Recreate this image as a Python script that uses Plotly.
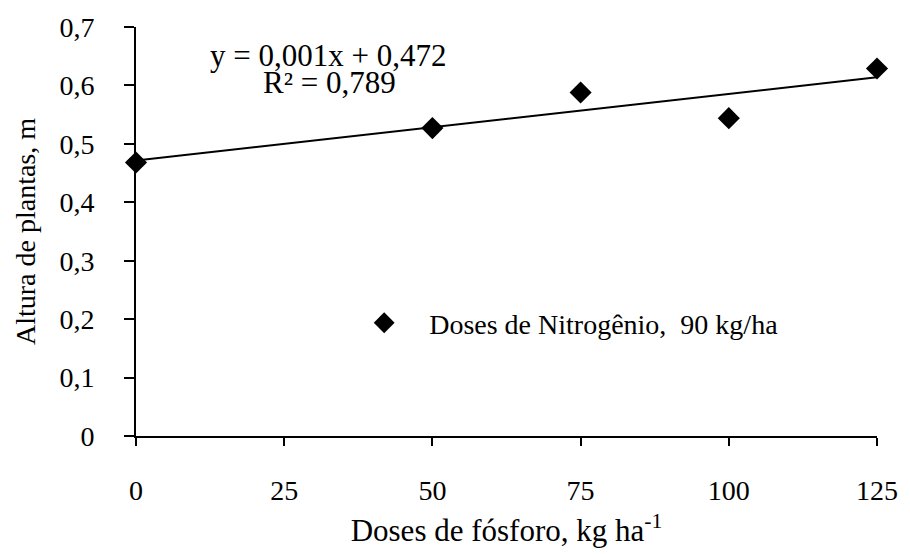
import numpy as np
import plotly.graph_objects as go

# Data
doses_p = [0, 50, 75, 100, 125]
altura = [0.468, 0.527, 0.588, 0.544, 0.629]
x_ticks = [0, 25, 50, 75, 100, 125]
y_ticks = [0, 0.1, 0.2, 0.3, 0.4, 0.5, 0.6, 0.7]
y_tick_labels = ["0", "0,1", "0,2", "0,3", "0,4", "0,5", "0,6", "0,7"]
series_name = "Doses de Nitrogênio,  90 kg/ha"
eq_line1 = "y = 0,001x + 0,472"
eq_line2 = "R² = 0,789"

FONT = "'Times New Roman', 'Liberation Serif', Tinos, 'Nimbus Roman', 'DejaVu Serif', serif"

# linear trendline fitted from data
slope, intercept = np.polyfit(doses_p, altura, 1)
trend_x = [min(doses_p), max(doses_p)]
trend_y = [slope * v + intercept for v in trend_x]

fig = go.Figure()
fig.add_trace(go.Scatter(
    x=trend_x, y=trend_y, mode="lines",
    line=dict(color="black", width=2),
    showlegend=False, hoverinfo="skip", cliponaxis=False,
))
fig.add_trace(go.Scatter(
    x=doses_p, y=altura, mode="markers", name=series_name,
    marker=dict(symbol="diamond", size=17, color="black"),
    cliponaxis=False,
))

axis_common = dict(
    showgrid=False, zeroline=False, showline=True, linecolor="black", linewidth=2,
    ticks="outside", tickcolor="black", tickwidth=2,
    tickfont=dict(family=FONT, size=28, color="black"),
)

plot_l, plot_r, plot_t, plot_b = 136, 880, 22, 442

def px_to_paper(px, py):
    return (px - plot_l) / (plot_r - plot_l), (plot_b - py) / (plot_b - plot_t)

a1 = px_to_paper(329, 51)
a2 = px_to_paper(330, 79)
lg = px_to_paper(340, 326)

fig.update_layout(
    width=910, height=554,
    margin=dict(l=plot_l, r=910 - plot_r, t=plot_t, b=554 - plot_b),
    paper_bgcolor="white", plot_bgcolor="white",
    font=dict(family=FONT, color="black"),
    xaxis=dict(
        range=[0, 125], tickvals=x_ticks, ticktext=[str(v) for v in x_ticks],
        ticklen=8, ticklabelstandoff=20,
        title=dict(text="Doses de fósforo, kg ha<sup>-1</sup>",
                   font=dict(family=FONT, size=31, color="black"), standoff=15),
        **axis_common,
    ),
    yaxis=dict(
        range=[0, 0.7], tickvals=y_ticks, ticktext=y_tick_labels,
        ticklen=10, ticklabelstandoff=24,
        title=dict(text="Altura de plantas, m",
                   font=dict(family=FONT, size=28, color="black"), standoff=16),
        **axis_common,
    ),
    legend=dict(
        x=lg[0], y=lg[1], xanchor="left", yanchor="middle",
        itemwidth=80,
        font=dict(family=FONT, size=28, color="black"),
        bgcolor="rgba(0,0,0,0)",
    ),
    annotations=[
        dict(x=a1[0], y=a1[1], xref="paper", yref="paper", text=eq_line1, showarrow=False,
             xanchor="center", yanchor="middle",
             font=dict(family=FONT, size=31, color="black")),
        dict(x=a2[0], y=a2[1], xref="paper", yref="paper", text=eq_line2, showarrow=False,
             xanchor="center", yanchor="middle",
             font=dict(family=FONT, size=31, color="black")),
    ],
)

fig.write_html("out.html")
